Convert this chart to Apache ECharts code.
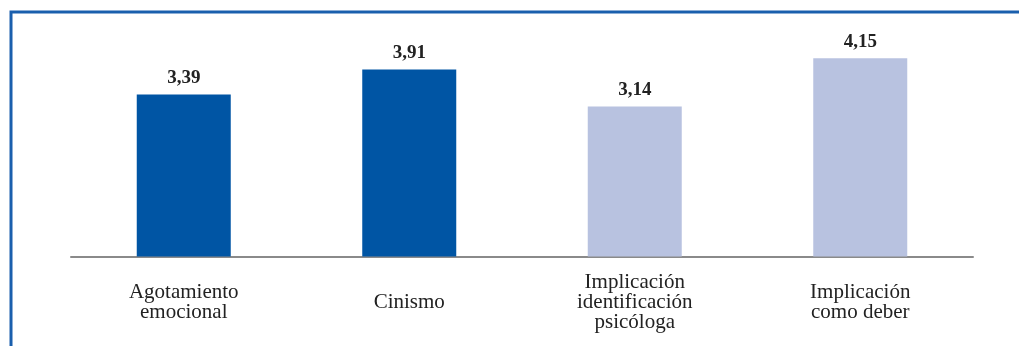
<!DOCTYPE html>
<html><head><meta charset="utf-8">
<script src="https://cdn.jsdelivr.net/npm/echarts@6/dist/echarts.min.js"></script>
<style>html,body{margin:0;padding:0;background:#fff}#c{width:1019px;height:346px}</style>
</head><body><div id="c"></div>
<script>
const categories = ['Agotamiento\nemocional', 'Cinismo', 'Implicación\nidentificación\npsicóloga', 'Implicación\ncomo deber'];
const values = [3.39, 3.91, 3.14, 4.15];
const barColors = ['#0055a4', '#0055a4', '#b8c2e0', '#b8c2e0'];

const chart = echarts.init(document.getElementById('c'), null, {renderer: 'canvas'});
chart.setOption({
  animation: false,
  backgroundColor: '#fff',
  graphic: [{
    type: 'polyline',
    shape: {points: [[11, 346], [11, 12], [1019, 12]]},
    style: {stroke: '#1a5fad', lineWidth: 3, fill: null}
  }],
  grid: {left: 71, right: 46, top: 17.5, bottom: 89.5, containLabel: false},
  xAxis: {
    type: 'category',
    data: categories,
    axisLine: {lineStyle: {color: '#8a8a8a', width: 2}},
    axisTick: {show: false},
    axisLabel: {
      interval: 0,
      color: '#222',
      fontFamily: 'Liberation Serif',
      fontSize: 21,
      lineHeight: 20,
      margin: 46,
      verticalAlign: 'middle'
    }
  },
  yAxis: {type: 'value', min: 0, max: 5, show: false, splitLine: {show: false}},
  series: [{
    type: 'bar',
    barWidth: 94,
    data: values.map((v, i) => ({value: v, itemStyle: {color: barColors[i]}})),
    label: {
      show: true,
      position: 'top',
      distance: 7,
      color: '#222',
      fontFamily: 'Liberation Serif',
      fontWeight: 'bold',
      fontSize: 19,
      formatter: p => p.value.toFixed(2).replace('.', ',')
    }
  }]
});
</script></body></html>
